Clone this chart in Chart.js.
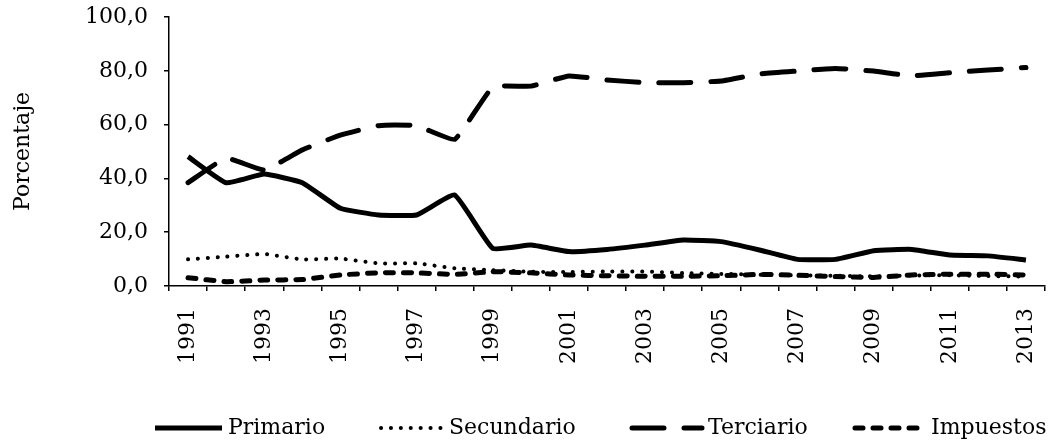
<!DOCTYPE html>
<html>
<head>
<meta charset="utf-8">
<script src="https://cdn.jsdelivr.net/npm/chart.js@4"></script>
<style>
  html, body { margin: 0; padding: 0; background: #fff; }
  #wrap { width: 1055px; height: 443px; }
</style>
</head>
<body>
<div id="wrap"><canvas id="Chart" width="1055" height="443"></canvas></div>
<script>
 // data
 const years = ['1991','1992','1993','1994','1995','1996','1997','1998','1999','2000','2001','2002',
   '2003','2004','2005','2006','2007','2008','2009','2010','2011','2012','2013'];
 const primario = [48.1, 38.4, 41.6, 38.4, 28.9, 26.4, 26.4, 33.8, 14.0, 15.2, 12.8, 13.6,
   15.2, 17.1, 16.5, 13.4, 9.9, 9.9, 13.1, 13.6, 11.5, 11.2, 9.7];
 const secundario = [9.9, 10.9, 11.9, 9.9, 10.2, 8.4, 8.4, 6.6, 5.9, 5.3, 5.2, 5.4,
   5.4, 4.8, 4.5, 4.2, 4.0, 3.8, 3.6, 3.9, 4.0, 3.7, 3.5];
 const terciario = [38.4, 47.5, 43.1, 50.6, 56.1, 59.6, 59.6, 54.5, 73.9, 74.3, 78.1, 76.6,
   75.6, 75.6, 76.2, 78.8, 79.9, 80.9, 79.9, 78.1, 79.3, 80.3, 81.2];
 const impuestos = [3.1, 1.6, 2.2, 2.4, 4.1, 4.9, 4.9, 4.3, 5.3, 4.9, 4.1, 3.8,
   3.6, 3.6, 3.8, 4.3, 4.0, 3.5, 3.2, 4.1, 4.4, 4.4, 4.1];
 const names = ['Primario', 'Secundario', 'Terciario', 'Impuestos'];

 const serif = '"DejaVu Serif", serif';

 // legend drawn by hand so the dash styles show as lines
 const lineLegend = {
   id: 'lineLegend',
   afterDraw(chart) {
     const c = chart.ctx;
     const y = 428;
     const items = [
       { x: 155, w: 67, ds: 0 },
       { x: 381, w: 62, ds: 1 },
       { x: 632, w: 70, ds: 2 },
       { x: 855, w: 70, ds: 3 }
     ];
     c.save();
     c.font = '22px ' + serif;
     c.fillStyle = '#000';
     c.textBaseline = 'middle';
     items.forEach(it => {
       const d = chart.data.datasets[it.ds];
       c.strokeStyle = '#000';
       c.lineWidth = d.borderWidth;
       c.lineCap = d.borderCapStyle || 'butt';
       c.setLineDash(d.borderDash || []);
       c.beginPath();
       c.moveTo(it.x, y);
       c.lineTo(it.x + it.w, y);
       c.stroke();
       c.setLineDash([]);
       c.fillText(d.label, it.x + it.w + 6, y);
     });
     c.restore();
   }
 };

 const ctx = document.getElementById('Chart').getContext('2d');
 const myChart = new Chart(ctx, {
   type: 'line',
   data: {
     labels: years,
     datasets: [{
       label: names[0],
       data: primario,
       borderColor: '#000',
       borderWidth: 5,
       borderCapStyle: 'butt'
     }, {
       label: names[1],
       data: secundario,
       borderColor: '#000',
       borderWidth: 4,
       borderDash: [0.1, 9.8],
       borderCapStyle: 'round'
     }, {
       label: names[2],
       data: terciario,
       borderColor: '#000',
       borderWidth: 5,
       borderDash: [32, 20],
       borderCapStyle: 'round'
     }, {
       label: names[3],
       data: impuestos,
       borderColor: '#000',
       borderWidth: 5,
       borderDash: [8, 10],
       borderCapStyle: 'round'
     }]
   },
   options: {
     responsive: false,
     animation: false,
     layout: { padding: { top: 17, right: 10, bottom: 0, left: 0 } },
     plugins: {
       legend: { display: false },
       tooltip: { enabled: false }
     },
     elements: { point: { radius: 0 }, line: { tension: 0.12 } },
     scales: {
       x: {
         offset: true,
         grid: { display: true, drawOnChartArea: false, offset: true, color: '#000', tickLength: 5, lineWidth: 1.5 },
         border: { display: true, color: '#000', width: 1.5 },
         ticks: {
           autoSkip: false,
           minRotation: 90,
           maxRotation: 90,
           color: '#000',
           font: { family: serif, size: 22 },
           padding: 17,
           callback: function (v, i) { return i % 2 === 0 ? this.getLabelForValue(v) : ''; }
         },
         afterFit: s => { s.height = 157; s.paddingLeft = 0; s.paddingRight = 0; }
       },
       y: {
         min: 0,
         max: 100,
         grid: { display: true, drawOnChartArea: false, color: '#000', tickLength: 5, lineWidth: 1.5 },
         border: { display: true, color: '#000', width: 1.5 },
         ticks: {
           stepSize: 20,
           color: '#000',
           font: { family: serif, size: 22 },
           padding: 16,
           callback: v => v.toFixed(1).replace('.', ',')
         },
         title: {
           display: true,
           text: 'Porcentaje',
           color: '#000',
           font: { family: serif, size: 22 },
           padding: { top: 10, bottom: 0 }
         },
         afterFit: s => { s.width = 169; s.paddingTop = 0; s.paddingBottom = 0; }
       }
     }
   },
   plugins: [lineLegend]
 });
</script>
</body>
</html>
